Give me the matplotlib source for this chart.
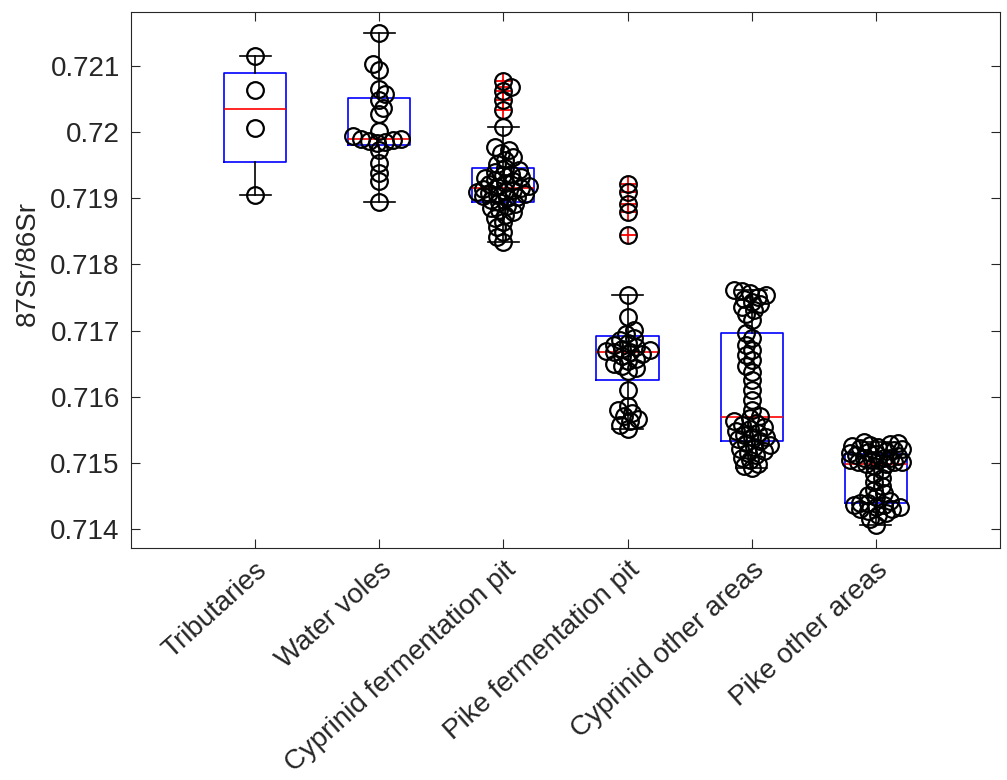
import numpy as np
import matplotlib.pyplot as plt

plt.rcParams['font.family'] = ['Liberation Sans', 'DejaVu Sans']

# 87Sr/86Sr values per group
groups = ['Tributaries', 'Water voles', 'Cyprinid fermentation pit',
          'Pike fermentation pit', 'Cyprinid other areas', 'Pike other areas']

tributaries = [0.72115, 0.72064, 0.72006, 0.71905]

water_voles = [0.72150, 0.72103, 0.72094, 0.72065, 0.72058, 0.72049, 0.72037,
               0.72027, 0.72002, 0.71994, 0.71990, 0.71990, 0.71988, 0.71987,
               0.71985, 0.71984, 0.71973, 0.71953, 0.71938, 0.71926, 0.71894]

cyprinid_pit = [0.72077, 0.72068, 0.72062, 0.72049, 0.72033, 0.72008, 0.71977,
                0.71973, 0.71968, 0.71962, 0.71958, 0.71952, 0.71946, 0.71943,
                0.71940, 0.71937, 0.71935, 0.71932, 0.71931, 0.71928, 0.71926,
                0.71923, 0.71921, 0.71918, 0.71917, 0.71915, 0.71914, 0.71912,
                0.71911, 0.71909, 0.71908, 0.71906, 0.71905, 0.71903, 0.71902,
                0.71900, 0.71897, 0.71894, 0.71891, 0.71888, 0.71885, 0.71882,
                0.71879, 0.71875, 0.71870, 0.71864, 0.71856, 0.71849, 0.71841,
                0.71834]

pike_pit = [0.71921, 0.71909, 0.71891, 0.71879, 0.71844, 0.71754, 0.71720,
            0.71701, 0.71695, 0.71689, 0.71686, 0.71682, 0.71679, 0.71676,
            0.71673, 0.71670, 0.71669, 0.71667, 0.71667, 0.71664, 0.71661,
            0.71657, 0.71654, 0.71649, 0.71646, 0.71643, 0.71639, 0.71611,
            0.71586, 0.71580, 0.71575, 0.71571, 0.71566, 0.71563, 0.71558,
            0.71552]

cyprinid_other = [0.71761, 0.71760, 0.71757, 0.71754, 0.71751, 0.71748, 0.71744,
                  0.71740, 0.71735, 0.71731, 0.71725, 0.71716, 0.71696, 0.71689,
                  0.71679, 0.71670, 0.71663, 0.71655, 0.71646, 0.71637, 0.71625,
                  0.71610, 0.71595, 0.71580, 0.71571, 0.71568, 0.71564, 0.71561,
                  0.71558, 0.71555, 0.71552, 0.71549, 0.71546, 0.71543, 0.71540,
                  0.71539, 0.71536, 0.71533, 0.71530, 0.71527, 0.71524, 0.71521,
                  0.71518, 0.71515, 0.71512, 0.71508, 0.71504, 0.71499, 0.71495,
                  0.71492]

pike_other = [0.71531, 0.71530, 0.71528, 0.71527, 0.71525, 0.71524, 0.71522,
              0.71521, 0.71519, 0.71518, 0.71516, 0.71515, 0.71513, 0.71512,
              0.71510, 0.71508, 0.71508, 0.71507, 0.71505, 0.71504, 0.71504,
              0.71502, 0.71501, 0.71501, 0.71499, 0.71499, 0.71495, 0.71489,
              0.71483, 0.71477, 0.71471, 0.71465, 0.71459, 0.71454, 0.71451,
              0.71448, 0.71443, 0.71440, 0.71439, 0.71437, 0.71436, 0.71434,
              0.71433, 0.71431, 0.71430, 0.71427, 0.71424, 0.71421, 0.71416,
              0.71407]

data = [tributaries, water_voles, cyprinid_pit, pike_pit, cyprinid_other, pike_other]


def matlab_box_stats(vals):
    # quartiles the way MATLAB's prctile does them (hazen), whiskers at 1.5 IQR
    v = np.sort(np.asarray(vals))
    q1, med, q3 = np.percentile(v, [25, 50, 75], method='hazen')
    iqr = q3 - q1
    lo, hi = q1 - 1.5 * iqr, q3 + 1.5 * iqr
    inside = v[(v >= lo) & (v <= hi)]
    return dict(med=med, q1=q1, q3=q3, whislo=inside.min(), whishi=inside.max(),
                fliers=v[(v < lo) | (v > hi)])


def swarm_offsets(ax, x0, vals, min_px=7.5, step_px=2.0, max_px=26.0):
    # loose beeswarm in pixel space, circles fan out where data are dense
    pts = ax.transData.transform(np.column_stack([np.full(len(vals), x0), vals]))
    ypix = pts[:, 1]
    order = np.argsort(ypix)
    px_per_x = ax.transData.transform((x0 + 1, vals[0]))[0] - pts[0, 0]
    placed = []
    offs = np.zeros(len(vals))
    kmax = int(max_px / step_px)
    for n, i in enumerate(order):
        sgn = 1 if n % 2 == 0 else -1
        best, best_d = 0.0, -1.0
        for k in range(kmax + 1):
            cands = [0.0] if k == 0 else [sgn * k * step_px, -sgn * k * step_px]
            for c in cands:
                d = min([np.hypot(c - px, ypix[i] - py) for px, py in placed] or [1e9])
                if d >= min_px:
                    best, best_d = c, 1e9
                    break
                if d > best_d:
                    best, best_d = c, d
            if best_d == 1e9:
                break
        placed.append((best, ypix[i]))
        offs[i] = best / px_per_x
    return offs


fig = plt.figure(figsize=(10.07, 7.8), dpi=100)
ax = fig.add_axes([0.130, 0.297, 0.863, 0.688])

axcol = (0.15, 0.15, 0.15)
positions = np.arange(1, len(groups) + 1)
stats = [matlab_box_stats(d) for d in data]

ax.bxp(stats, positions=positions, widths=0.5, capwidths=0.25, showfliers=True,
       boxprops=dict(color='blue', linewidth=1.2),
       medianprops=dict(color='red', linewidth=1.2),
       whiskerprops=dict(color='black', linewidth=1.2),
       capprops=dict(color='black', linewidth=1.2),
       flierprops=dict(marker='+', markeredgecolor='red', markersize=12, markeredgewidth=1.3))

ax.set_xlim(0, 7)
ax.set_ylim(0.71371, 0.72182)

for pos, vals in zip(positions, data):
    offs = swarm_offsets(ax, pos, np.asarray(vals))
    ax.plot(pos + offs, vals, 'o', markerfacecolor='none', markeredgecolor='black',
            markersize=12, markeredgewidth=1.6, zorder=3)

ax.set_xticks(positions)
ax.set_xticklabels(groups, rotation=42, ha='right', rotation_mode='anchor', fontsize=20)
ax.set_yticks([0.714, 0.715, 0.716, 0.717, 0.718, 0.719, 0.720, 0.721])
ax.set_yticklabels(['0.714', '0.715', '0.716', '0.717', '0.718', '0.719', '0.72', '0.721'])
ax.tick_params(direction='in', length=6.5, width=0.8, colors=axcol,
               top=True, right=True)
ax.tick_params(axis='y', labelsize=20, pad=8)
ax.tick_params(axis='x', pad=6)
ax.set_ylabel('87Sr/86Sr', fontsize=20, color=axcol)
ax.yaxis.set_label_coords(-0.104, 0.53)
for sp in ax.spines.values():
    sp.set_color(axcol)
    sp.set_linewidth(0.8)

fig.savefig('out.png', dpi=100)
